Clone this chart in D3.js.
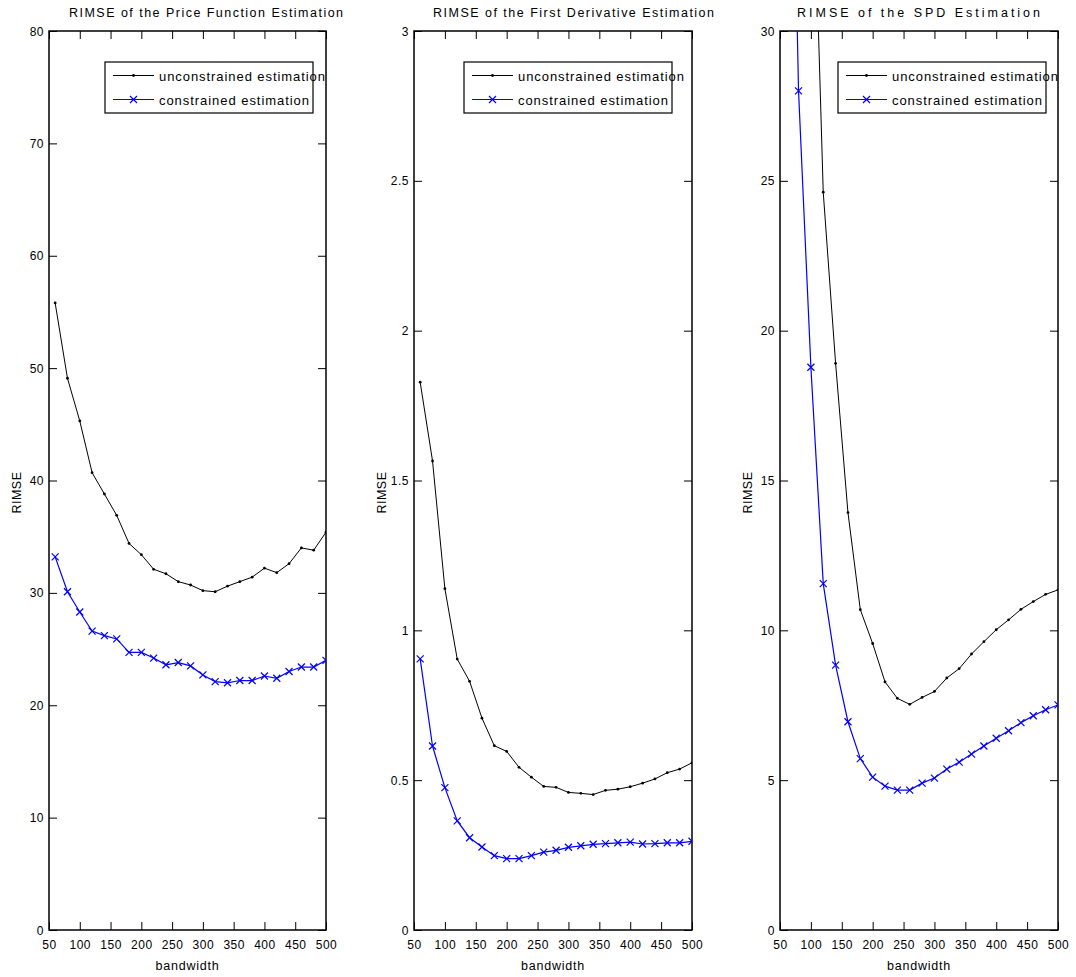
<!DOCTYPE html>
<html>
<head>
<meta charset="utf-8">
<script src="https://cdn.jsdelivr.net/npm/d3@7"></script>
<style>
  body { margin: 0; background: #fff; }
  svg { display: block; font-family: "Liberation Sans", Arial, Helvetica, sans-serif; }
  .tick text { font-size: 12px; fill: #000; letter-spacing: 0.5px; }
  .tick line { stroke: #000; stroke-width: 1; }
</style>
</head>
<body>
<svg id="chart" width="1076" height="977"></svg>
<script>
// Bandwidths at which each RIMSE was computed
const bandwidth = [60, 80, 100, 120, 140, 160, 180, 200, 220, 240, 260, 280,
                   300, 320, 340, 360, 380, 400, 420, 440, 460, 480, 500];

// Price function estimation
const priceUnconstrained = [55.8, 49.1, 45.3, 40.7, 38.8, 36.9, 34.4, 33.4, 32.1, 31.7, 31.0, 30.7,
                            30.2, 30.1, 30.6, 31.0, 31.4, 32.2, 31.8, 32.6, 34.0, 33.8, 35.4];
const priceConstrained   = [33.2, 30.1, 28.3, 26.6, 26.2, 25.9, 24.7, 24.7, 24.2, 23.6, 23.8, 23.5,
                            22.7, 22.1, 22.0, 22.2, 22.2, 22.6, 22.4, 23.0, 23.4, 23.4, 24.0];

// First derivative estimation
const derivUnconstrained = [1.828, 1.565, 1.139, 0.904, 0.830, 0.707, 0.615, 0.596, 0.543, 0.510, 0.479, 0.476,
                            0.459, 0.456, 0.452, 0.466, 0.470, 0.478, 0.490, 0.504, 0.525, 0.537, 0.558];
const derivConstrained   = [0.905, 0.614, 0.475, 0.364, 0.308, 0.277, 0.248, 0.238, 0.238, 0.248, 0.260, 0.266,
                            0.276, 0.281, 0.286, 0.288, 0.291, 0.293, 0.287, 0.288, 0.291, 0.291, 0.296];

// SPD estimation
const spdUnconstrained = [70.0, 52.0, 38.5, 24.62, 18.91, 13.93, 10.69, 9.56, 8.28, 7.73, 7.53, 7.76,
                          7.96, 8.41, 8.72, 9.21, 9.62, 10.02, 10.35, 10.70, 10.96, 11.20, 11.35];
const spdConstrained   = [48.0, 28.0, 18.78, 11.56, 8.84, 6.95, 5.72, 5.10, 4.80, 4.67, 4.67, 4.90,
                          5.07, 5.37, 5.60, 5.87, 6.14, 6.40, 6.65, 6.92, 7.15, 7.35, 7.51];

// Axis ticks
const xTicks = [50, 100, 150, 200, 250, 300, 350, 400, 450, 500];
const priceTicks = [0, 10, 20, 30, 40, 50, 60, 70, 80];
const derivTicks = [0, 0.5, 1, 1.5, 2, 2.5, 3];
const spdTicks = [0, 5, 10, 15, 20, 25, 30];

const seriesNames = ["unconstrained estimation", "constrained estimation"];
const titles = ["RIMSE of the Price Function Estimation",
                "RIMSE of the First Derivative Estimation",
                "RIMSE of the SPD Estimation"];

const panels = [
  { left: 49,  right: 326,  yMax: 80, ticks: priceTicks, unc: priceUnconstrained, con: priceConstrained,
    titleX: 69, titleW: 274, legendGap: 13 },
  { left: 414, right: 692,  yMax: 3,  ticks: derivTicks, unc: derivUnconstrained, con: derivConstrained,
    titleX: 433, titleW: 281, legendGap: 20 },
  { left: 780, right: 1058, yMax: 30, ticks: spdTicks, unc: spdUnconstrained, con: spdConstrained,
    titleX: 797, titleW: 243, legendGap: 12 }
];

const plotTop = 31, plotBottom = 930;
const svg = d3.select("#chart");
const blue = "#0000ff";

panels.forEach((p, i) => {
  const x = d3.scaleLinear().domain([50, 500]).range([p.left, p.right]);
  const y = d3.scaleLinear().domain([0, p.yMax]).range([plotBottom, plotTop]);
  const g = svg.append("g");

  // clip region for the plot area
  const clipId = "clip" + i;
  svg.append("clipPath").attr("id", clipId)
    .append("rect").attr("x", p.left).attr("y", plotTop)
    .attr("width", p.right - p.left).attr("height", plotBottom - plotTop);

  // axes with inward ticks on all four sides
  const fmt = d3.format("");
  g.append("g").attr("transform", `translate(0,${plotBottom})`)
    .call(d3.axisBottom(x).tickValues(xTicks).tickSize(-8).tickPadding(10).tickFormat(fmt))
    .call(a => a.select(".domain").remove());
  g.append("g").attr("transform", `translate(0,${plotTop})`)
    .call(d3.axisTop(x).tickValues(xTicks).tickSize(-8).tickFormat(""))
    .call(a => a.select(".domain").remove());
  g.append("g").attr("transform", `translate(${p.left},0)`)
    .call(d3.axisLeft(y).tickValues(p.ticks).tickSize(-8).tickPadding(5).tickFormat(fmt))
    .call(a => a.select(".domain").remove())
    .call(a => a.selectAll("text").attr("dy", "0.34em"));
  g.append("g").attr("transform", `translate(${p.right},0)`)
    .call(d3.axisRight(y).tickValues(p.ticks).tickSize(-8).tickFormat(""))
    .call(a => a.select(".domain").remove());

  // frame
  g.append("rect").attr("x", p.left).attr("y", plotTop)
    .attr("width", p.right - p.left).attr("height", plotBottom - plotTop)
    .attr("fill", "none").attr("stroke", "#000").attr("stroke-width", 1.5);

  // title
  g.append("text").attr("x", p.titleX).attr("y", 17)
    .attr("font-size", 12.5).attr("textLength", p.titleW).attr("lengthAdjust", "spacing")
    .text(titles[i]);

  // axis labels
  g.append("text").attr("x", (p.left + p.right) / 2).attr("y", 970)
    .attr("text-anchor", "middle").attr("font-size", 12.5).attr("letter-spacing", 0.8)
    .text("bandwidth");
  g.append("text")
    .attr("transform", `translate(${p.left - 28},${(plotTop + plotBottom) / 2 + 12}) rotate(-90)`)
    .attr("text-anchor", "middle").attr("font-size", 12.5).attr("letter-spacing", 0.5)
    .text("RIMSE");

  // data
  const plot = g.append("g").attr("clip-path", `url(#${clipId})`);
  const line = d3.line().x((d, k) => x(bandwidth[k])).y(d => y(d));

  plot.append("path").datum(p.unc).attr("d", line)
    .attr("fill", "none").attr("stroke", "#000").attr("stroke-width", 1);
  plot.selectAll(".dot").data(p.unc).join("circle")
    .attr("cx", (d, k) => x(bandwidth[k])).attr("cy", d => y(d)).attr("r", 1.4).attr("fill", "#000");

  plot.append("path").datum(p.con).attr("d", line)
    .attr("fill", "none").attr("stroke", blue).attr("stroke-width", 1.2);
  const s = 3.5;
  plot.selectAll(".xm").data(p.con).join("path")
    .attr("d", (d, k) => {
      const cx = x(bandwidth[k]), cy = y(d);
      return `M${cx - s},${cy - s}L${cx + s},${cy + s}M${cx - s},${cy + s}L${cx + s},${cy - s}`;
    })
    .attr("stroke", blue).attr("stroke-width", 1.2).attr("fill", "none");

  // legend
  const lw = 208, lh = 51;
  const lx = p.right - p.legendGap - lw, ly = 62;
  const lg = g.append("g");
  lg.append("rect").attr("x", lx).attr("y", ly).attr("width", lw).attr("height", lh)
    .attr("fill", "#fff").attr("stroke", "#000").attr("stroke-width", 1.2);
  const rows = [
    { name: seriesNames[0], color: "#000", marker: "dot", w: 166 },
    { name: seriesNames[1], color: blue, marker: "x", w: 150 }
  ];
  rows.forEach((r, k) => {
    const yy = ly + 13.5 + k * 24;
    lg.append("line").attr("x1", lx + 8).attr("x2", lx + 49).attr("y1", yy).attr("y2", yy)
      .attr("stroke", r.color).attr("stroke-width", 1);
    const mx = lx + 28.5;
    if (r.marker === "dot") {
      lg.append("circle").attr("cx", mx).attr("cy", yy).attr("r", 1.4).attr("fill", r.color);
    } else {
      lg.append("path")
        .attr("d", `M${mx - s},${yy - s}L${mx + s},${yy + s}M${mx - s},${yy + s}L${mx + s},${yy - s}`)
        .attr("stroke", r.color).attr("stroke-width", 1.2);
    }
    lg.append("text").attr("x", lx + 54).attr("y", yy + 5.5)
      .attr("font-size", 13).attr("textLength", r.w).attr("lengthAdjust", "spacing")
      .text(r.name);
  });
});
</script>
</body>
</html>
